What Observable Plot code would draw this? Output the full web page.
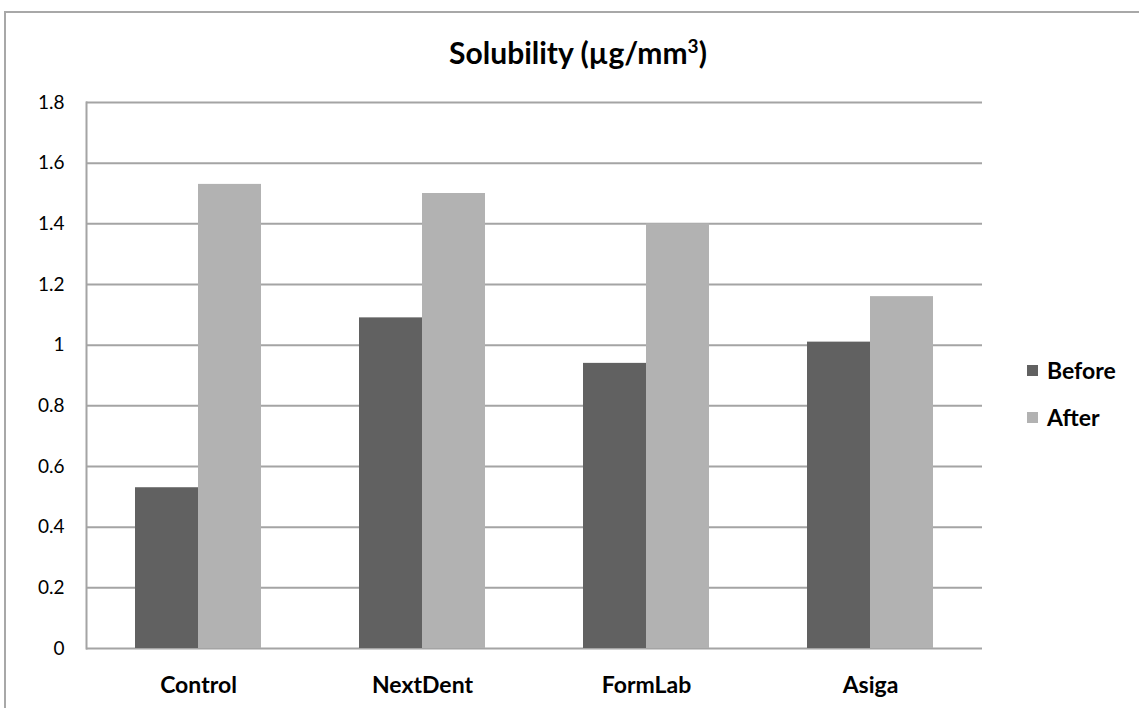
<!DOCTYPE html>
<html>
<head>
<meta charset="utf-8">
<script src="https://cdn.jsdelivr.net/npm/d3@7"></script>
<script src="https://cdn.jsdelivr.net/npm/@observablehq/plot@0.6"></script>
<style>
  html, body { margin: 0; padding: 0; background: #fff; }
  #wrap { position: relative; width: 1139px; height: 711px; overflow: hidden; font-family: Lato, "Open Sans", sans-serif; }
  #border { position: absolute; left: 4px; top: 11px; width: 1200px; height: 697px; border-left: 2px solid #a8a8a8; border-top: 2px solid #a8a8a8; box-sizing: border-box; }
  #title { position: absolute; left: 0; width: 1156px; top: 32px; text-align: center; font-size: 30px; font-weight: bold; color: #000; line-height: 40px; }
  #title sup { font-size: 19px; line-height: 0; }
  .leg { position: absolute; left: 1027px; font-size: 23px; font-weight: bold; color: #000; display: flex; align-items: center; line-height: 28px; }
  .sw { width: 11px; height: 11px; margin-right: 9px; }
  svg { position: absolute; left: 0; top: 0; }
</style>
</head>
<body>
<div id="wrap">
  <div id="border"></div>
  <div id="title">Solubility (µg/mm<sup>3</sup>)</div>
  <div id="legend"></div>
</div>
<script>
const categories = ["Control", "NextDent", "FormLab", "Asiga"];
const seriesNames = ["Before", "After"];
const beforeValues = [0.53, 1.09, 0.94, 1.01];
const afterValues = [1.53, 1.50, 1.40, 1.16];
const yTicks = [0, 0.2, 0.4, 0.6, 0.8, 1, 1.2, 1.4, 1.6, 1.8];
const colors = ["#616161", "#b2b2b2"];

const data = [];
categories.forEach((c, i) => {
  data.push({category: c, series: "Before", value: beforeValues[i]});
  data.push({category: c, series: "After", value: afterValues[i]});
});

const chart = Plot.plot({
  width: 1139,
  height: 711,
  marginLeft: 85,
  marginRight: 156,
  marginTop: 102,
  marginBottom: 63,
  style: {fontFamily: "Lato, 'Open Sans', sans-serif", background: "transparent"},
  fx: {domain: categories, padding: 0, label: null},
  x: {domain: seriesNames, paddingInner: 0, paddingOuter: 0.754, axis: null},
  y: {domain: [0, 1.8], label: null},
  color: {domain: seriesNames, range: colors},
  marks: [
    Plot.ruleY(yTicks, {stroke: "#a4a4a4", strokeWidth: 2, strokeOpacity: 1}),
    Plot.frame({anchor: "left", facetAnchor: "left", stroke: "#a4a4a4", strokeWidth: 2, strokeOpacity: 1}),
    Plot.barY(data, {fx: "category", x: "series", y: "value", fill: "series"}),
    Plot.axisY({ticks: yTicks, tickSize: 0, tickPadding: 22, fontSize: 19, tickFormat: d => String(+d.toFixed(1)), label: null, fill: "#000"}),
    Plot.axisFx({anchor: "bottom", tickSize: 0, tickPadding: 28, fontSize: 23, fontWeight: "bold", label: null, fill: "#000"})
  ]
});
document.getElementById("wrap").appendChild(chart);

const legend = document.getElementById("legend");
const legendTops = [356, 403];
seriesNames.forEach((s, i) => {
  const row = document.createElement("div");
  row.className = "leg";
  row.style.top = legendTops[i] + "px";
  const sw = document.createElement("div");
  sw.className = "sw";
  sw.style.background = colors[i];
  row.appendChild(sw);
  row.appendChild(document.createTextNode(s));
  legend.appendChild(row);
});
</script>
</body>
</html>
